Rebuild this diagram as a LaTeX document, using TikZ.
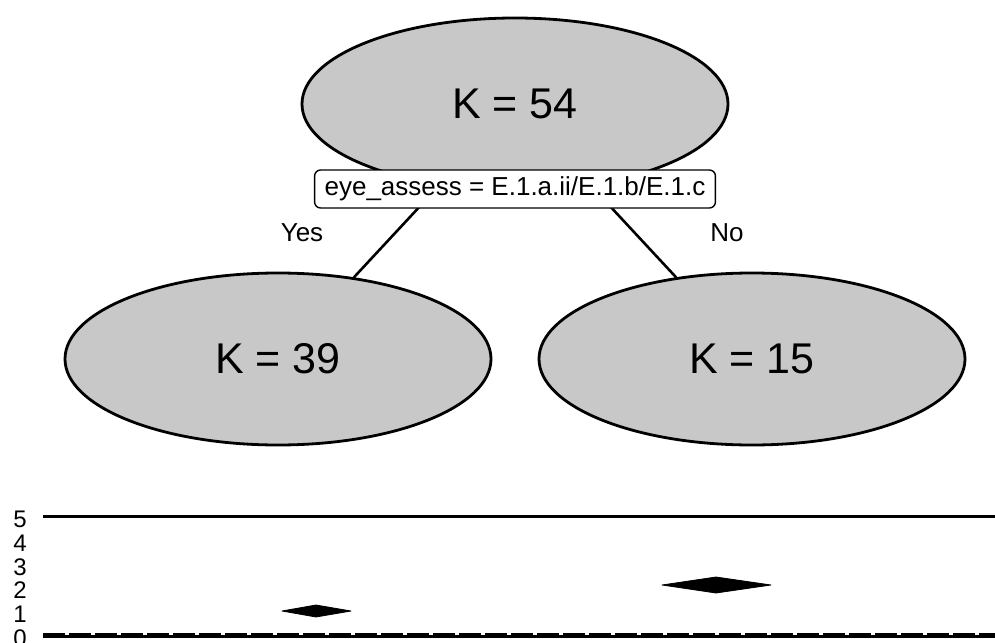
\documentclass[tikz,border=0pt]{standalone}
\usepackage{fontspec}
\setmainfont{Liberation Sans}
\usetikzlibrary{shapes.geometric}
\definecolor{nodefill}{HTML}{C8C8C8}
\tikzset{
  leaf/.style={ellipse,draw,line width=1.4pt,fill=nodefill,minimum width=213pt,minimum height=86pt,inner sep=0pt,font=\fontsize{21.5}{25}\selectfont},
  split/.style={draw,line width=0.7pt,rounded corners=3pt,fill=white,inner xsep=5pt,inner ysep=0pt,minimum height=19pt,font=\fontsize{13}{15}\selectfont},
  lab/.style={font=\fontsize{13}{15}\selectfont},
  br/.style={line width=1.3pt},
  ax/.style={line width=1.5pt},
  tick/.style={anchor=east,inner sep=0pt,text height=8.5pt,text depth=0pt,font=\fontsize{12}{14}\selectfont},
  kite/.style={fill=black,draw=black,line width=0.4pt,line join=round},
}

\begin{document}
\begin{tikzpicture}[x=0.5pt,y=-0.5pt]
  \useasboundingbox (0,0) rectangle (995,642);
  % tree
  \node[leaf] (root) at (515,104) {K = 54};
  \node[leaf] (yes) at (278,359) {K = 39};
  \node[leaf] (no) at (752,359) {K = 15};
  \draw[br] (root) -- (yes);
  \draw[br] (root) -- (no);
  \node[split] (q) at (515,189) {eye\_assess = E.1.a.ii/E.1.b/E.1.c};
  \node[lab] (ly) at (302,233) {Yes};
  \node[lab] (ln) at (727,233) {No};
  % strip below
  \draw[ax] (43,516) -- (995,516);
  \draw[ax] (43,636) -- (995,636);
  \draw[ax,dash pattern=on 11pt off 2pt] (43,634) -- (995,634);
  \foreach \v in {0,...,5}
    \node[tick] (t\v) at (27,{638-23.8*\v}) {\v};
  \filldraw[kite] (282,611) -- (316,605) -- (351,611) -- (316,617) -- cycle;
  \filldraw[kite] (662,585) -- (716,577) -- (771,585) -- (716,593) -- cycle;
\end{tikzpicture}
\end{document}
